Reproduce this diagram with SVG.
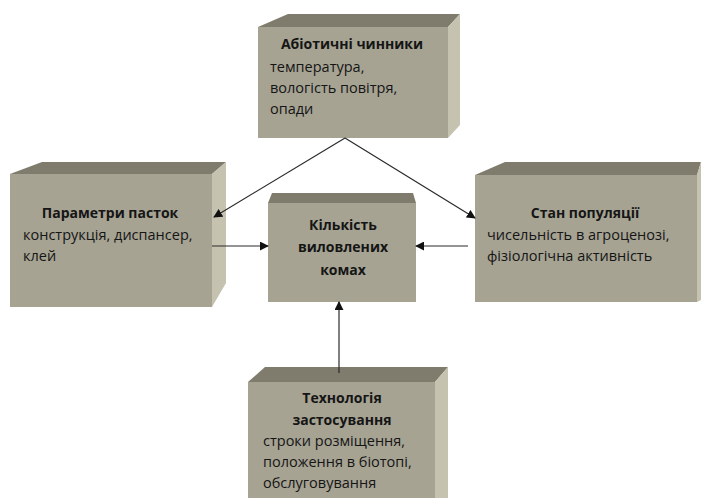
<svg xmlns="http://www.w3.org/2000/svg" width="701" height="498" viewBox="0 0 701 498">
<defs>
<style>
.front{fill:#a6a393;}
.top{fill:#7f7c6e;}
.side{fill:#c6c2b0;}
.t{font-family:"Open Sans","Liberation Sans",sans-serif;font-size:14.5px;fill:#151515;}
.b{font-weight:bold;font-size:14px;text-anchor:middle;}
.conn{stroke:#2a2a2a;stroke-width:1.2;fill:none;marker-end:url(#ah);}
</style>
<marker id="ah" viewBox="0 0 10 10" refX="9" refY="5" markerWidth="9" markerHeight="9" markerUnits="userSpaceOnUse" orient="auto">
<path d="M0,0 L10,5 L0,10 z" fill="#111"/>
</marker>
</defs>
<rect width="701" height="498" fill="#fff"/>
<g id="abiotic">
<polygon class="top" points="258,27 288,14 460,14 448,27"/>
<polygon class="side" points="448,27 460,14 460,125 448,138"/>
<rect class="front" x="258" y="27" width="190" height="111"/>
<text class="t b" x="352" y="49">Абіотичні чинники</text>
<text class="t" x="270" y="72">температура,</text>
<text class="t" x="270" y="93">вологість повітря,</text>
<text class="t" x="270" y="114">опади</text>
</g>
<g id="params">
<polygon class="top" points="10,174 42,162 226,162 212,174"/>
<polygon class="side" points="212,174 226,162 226,283 212,307"/>
<rect class="front" x="10" y="174" width="202" height="133"/>
<text class="t b" x="110" y="218">Параметри пасток</text>
<text class="t" x="23" y="240">конструкція, диспансер,</text>
<text class="t" x="23" y="261">клей</text>
</g>
<g id="population">
<polygon class="top" points="475,175 505,162 701,162 697,175"/>
<polygon class="side" points="697,175 701,162 701,300 697,302"/>
<rect class="front" x="475" y="175" width="222" height="127"/>
<text class="t b" x="585" y="218">Стан популяції</text>
<text class="t" x="487" y="240">чисельність в агроценозі,</text>
<text class="t" x="487" y="261">фізіологічна активність</text>
</g>
<g id="count">
<polygon class="top" points="268,203 272,193 413,193 416,203"/>
<rect class="front" x="268" y="203" width="148" height="99"/>
<text class="t b" x="343" y="230">Кількість</text>
<text class="t b" x="343" y="252">виловлених</text>
<text class="t b" x="343" y="275">комах</text>
</g>
<g id="technology">
<polygon class="top" points="248,382 265,367 448,367 435,382"/>
<polygon class="side" points="435,382 448,367 448,498 435,498"/>
<rect class="front" x="248" y="382" width="187" height="116"/>
<text class="t b" x="342" y="403">Технологія</text>
<text class="t b" x="342" y="425">застосування</text>
<text class="t" x="263" y="446">строки розміщення,</text>
<text class="t" x="263" y="467">положення в біотопі,</text>
<text class="t" x="263" y="488">обслуговування</text>
</g>
<g id="connectors">
<path class="conn" d="M345,138 L214,217"/>
<path class="conn" d="M345,138 L475,218"/>
<path class="conn" d="M212,246 L268,246"/>
<path class="conn" d="M468,246 L416,246"/>
<path class="conn" d="M339,373 L339,302"/>
</g>
</svg>
